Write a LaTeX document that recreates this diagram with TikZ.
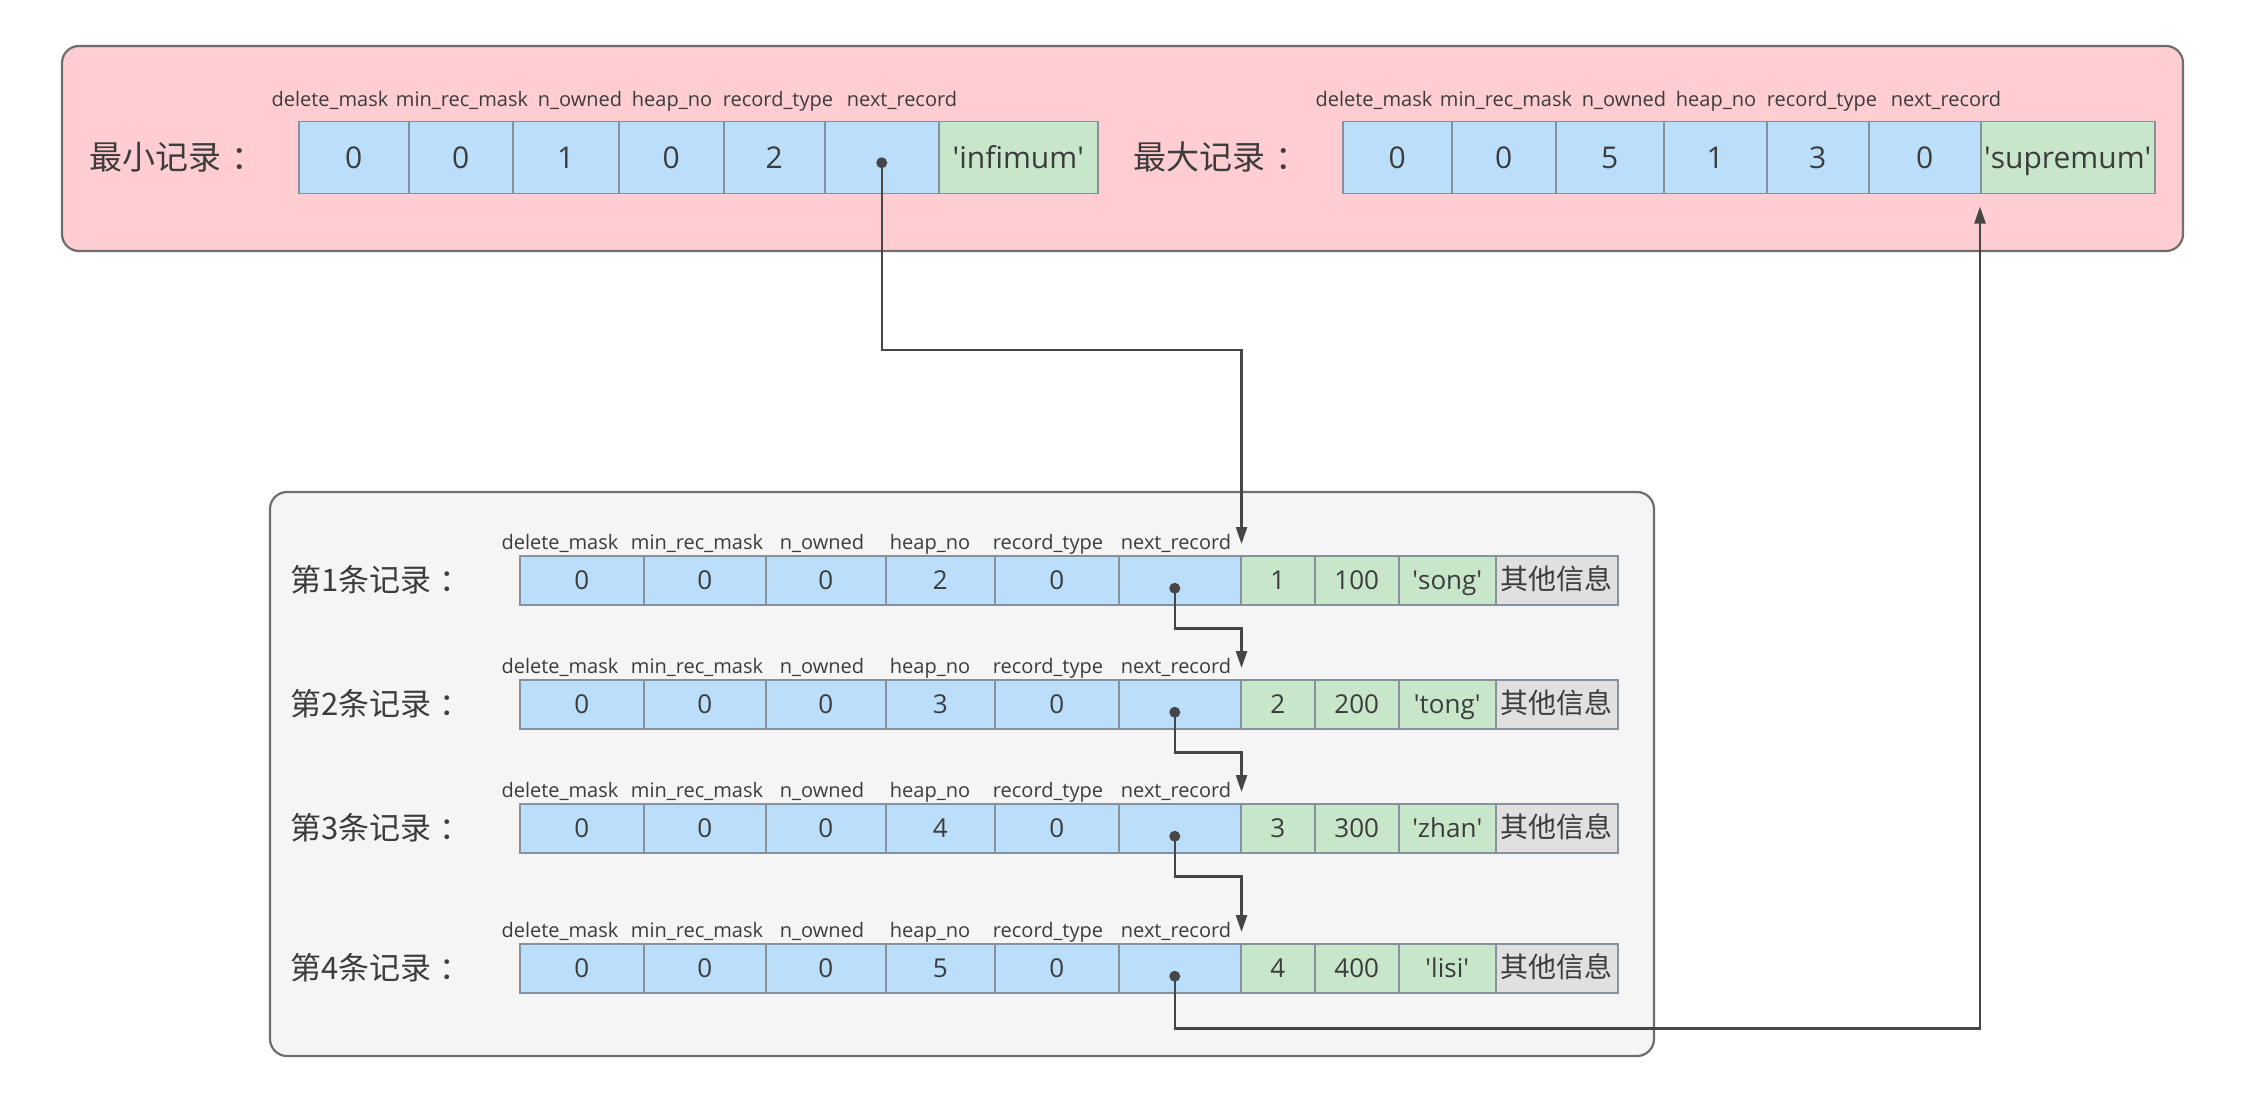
\documentclass[tikz,border=0pt]{standalone}
\usepackage{fontspec}
\setmainfont{Open Sans}
\newfontfamily\cjk{Noto Sans CJK SC}
\usetikzlibrary{arrows.meta}
\definecolor{pinkbg}{RGB}{255,205,210}
\definecolor{graybg}{RGB}{245,245,245}
\definecolor{cellblue}{RGB}{187,222,250}
\definecolor{cellgreen}{RGB}{200,230,201}
\definecolor{cellgray}{RGB}{224,224,224}
\definecolor{cellline}{RGB}{135,145,155}
\definecolor{framec}{RGB}{110,110,110}
\definecolor{linkc}{RGB}{70,70,70}
\definecolor{textc}{RGB}{60,60,60}
\newcommand\quoted[1]{\textquotesingle#1\textquotesingle}
\tikzset{
field/.style={ % one field of a record
draw=cellline, line width=1.5pt,
anchor=north west, inner sep=0pt,
minimum height=49pt, text=textc,
text height=19pt, text depth=0pt,
font=\fontsize{26}{30}\selectfont},
topfield/.style={field, minimum height=72pt,
text height=22pt,
font=\fontsize{30}{34}\selectfont},
fieldname/.style={anchor=base, inner sep=0pt, text=textc,
font=\fontsize{20}{24}\selectfont},
title/.style={anchor=west, inner sep=0pt, text=textc,
font=\cjk\fontsize{31}{36}\selectfont},
pointer/.style={circle, fill=linkc, inner sep=0pt, minimum size=11pt},
link/.style={ % next_record arrows
draw=linkc, line width=2.5pt,
-{Triangle[width=11pt,length=17pt]}},
frame/.style={rounded corners=17pt, draw=framec, line width=2.2pt}}

\begin{document}
\begin{tikzpicture}[x=1pt,y=-1pt]
	\useasboundingbox (0,0) rectangle (2258,1102);
	\draw[frame, fill=pinkbg] (62,46) rectangle (2183,251);
	\draw[frame, fill=graybg] (270,492) rectangle (1654,1056);
	% infimum and supremum
	\node[title, font=\cjk\fontsize{33}{38}\selectfont] (minname) at (89,157) {最小记录\hspace{0.3em}：};
	\node[title, font=\cjk\fontsize{33}{38}\selectfont] (maxname) at (1133,157) {最大记录\hspace{0.3em}：};
	\foreach \o in {0,1044}
		\foreach \x/\t in {330/delete\_mask, 462/min\_rec\_mask, 580/n\_owned, 672/heap\_no, 778/record\_type, 902/next\_record}
			\node[fieldname] at (\x+\o,107) {\t};
	\foreach \x/\w/\v/\c [count=\i] in {298/110/0/blue, 408/104/0/blue, 512/106/1/blue, 618/105/0/blue, 723/101/2/blue, 824/114/{}/blue, 938/159/{\quoted{infimum}}/green}
		\node[topfield, fill=cell\c, minimum width=\w] (min-\i) at (\x,121) {\v};
	\foreach \x/\w/\v/\c [count=\i] in {1342/109/0/blue, 1451/104/0/blue, 1555/108/5/blue, 1663/103/1/blue, 1766/102/3/blue, 1868/112/0/blue, 1980/174/{\quoted{supremum}}/green}
		\node[topfield, fill=cell\c, minimum width=\w] (max-\i) at (\x,121) {\v};
	\node[pointer] (pmin) at ([yshift=-5pt]min-6.center) {};
	% user records
	\foreach \r/\top/\h/\n/\s in {1/555/2/100/song, 2/679/3/200/tong, 3/803/4/300/zhan, 4/943/5/400/lisi} {
		\node[title] (name\r) at (290,\top+24.5) {第\r 条记录\hspace{0.25em}：};
		\foreach \x/\t in {560/delete\_mask, 697/min\_rec\_mask, 822/n\_owned, 930/heap\_no, 1048/record\_type, 1176/next\_record}
			\node[fieldname] at (\x,\top-6) {\t};
		\foreach \x/\w/\v/\c [count=\i] in {519/124/0/blue, 643/122/0/blue, 765/120/0/blue, 885/109/\h/blue, 994/124/0/blue, 1118/122/{}/blue, 1240/74/\r/green, 1314/84/\n/green, 1398/97/{\quoted{\s}}/green, 1495/122/{\cjk\fontsize{28}{32}\selectfont 其他信息}/gray}
			\node[field, fill=cell\c, minimum width=\w] (r\r-\i) at (\x,\top) {\v};
		\node[pointer] (p\r) at ([xshift=-5pt,yshift=-8pt]r\r-6.center) {};
	}
	% next_record chain
	\coordinate (drop) at (881,350);
	\draw[link] (pmin.center) |- (r1-6.north east |- drop) -- ([yshift=11pt]r1-6.north east);
	\foreach \r/\n in {1/2, 2/3, 3/4}
		\draw[link] (p\r.center) |- ([yshift=-23pt]r\r-6.south east) -- ([yshift=11pt]r\n-6.north east);
	\coordinate (back) at ([yshift=-35pt]r4-6.south);
	\draw[link] (p4.center) |- (max-7.south west |- back) -- ([yshift=-12pt]max-7.south west);
\end{tikzpicture}
\end{document}
